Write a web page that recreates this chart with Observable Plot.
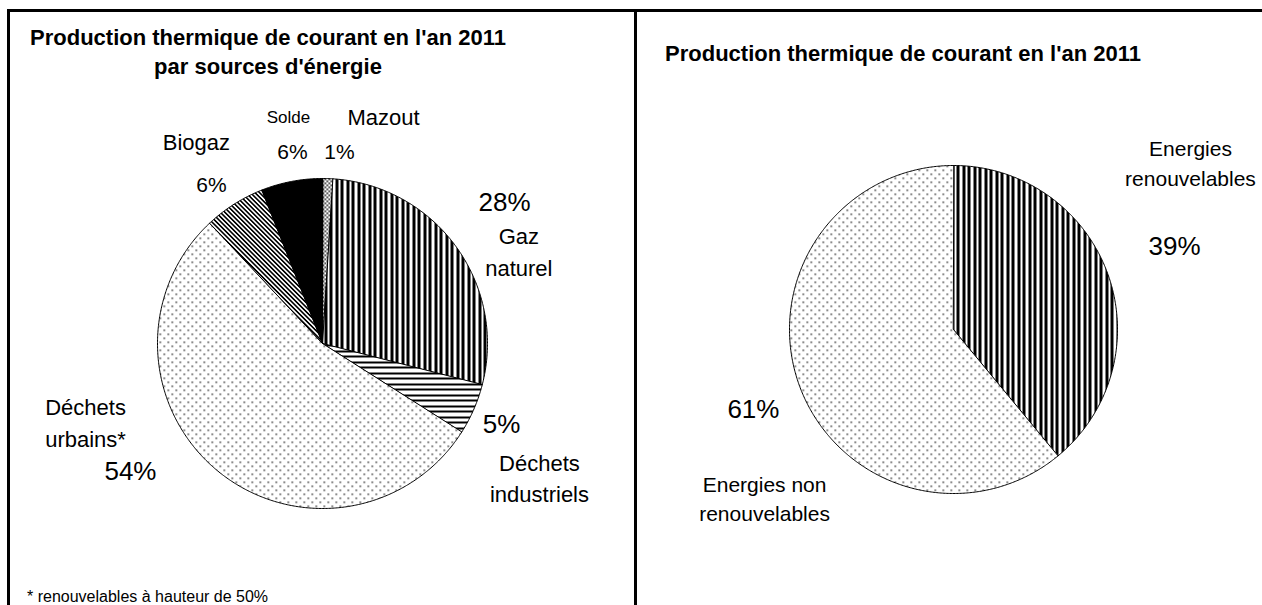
<!DOCTYPE html>
<html><head><meta charset="utf-8">
<script src="https://cdn.jsdelivr.net/npm/d3@7"></script>
<script src="https://cdn.jsdelivr.net/npm/@observablehq/plot@0.6"></script>
<style>
body{margin:0;background:#fff;font-family:"Liberation Sans",Arial,sans-serif;}
#page{position:relative;width:1262px;height:605px;overflow:hidden;background:#fff}
.abs{position:absolute}
.title{position:absolute;font-weight:bold;font-size:22px;line-height:29px;text-align:center;white-space:nowrap;color:#000}
.note{position:absolute;font-size:16px;color:#000;white-space:nowrap}
</style></head><body>
<svg width="0" height="0" style="position:absolute">
  <defs>
    <pattern id="pDense" width="4" height="4" patternUnits="userSpaceOnUse">
      <rect width="4" height="4" fill="#fff"/>
      <rect x="0" y="0" width="1.6" height="1.6" fill="#000"/>
      <rect x="2" y="2" width="1.6" height="1.6" fill="#000"/>
    </pattern>
    <pattern id="pVert" width="11" height="10" patternUnits="userSpaceOnUse">
      <rect width="11" height="10" fill="#fff"/>
      <rect x="0" y="0" width="3" height="10" fill="#000"/>
      <rect x="6" y="0" width="3" height="10" fill="#000"/>
    </pattern>
    <pattern id="pHoriz" width="10" height="11" patternUnits="userSpaceOnUse">
      <rect width="10" height="11" fill="#fff"/>
      <rect x="0" y="0" width="10" height="2" fill="#000"/>
      <rect x="0" y="6" width="10" height="2" fill="#000"/>
    </pattern>
    <pattern id="pDots" width="8" height="8" patternUnits="userSpaceOnUse">
      <rect width="8" height="8" fill="#fff"/>
      <rect x="1" y="1" width="1.5" height="1.5" fill="#333"/>
      <rect x="5" y="5" width="1.5" height="1.5" fill="#333"/>
    </pattern>
    <pattern id="pDiag" width="3.2" height="10" patternUnits="userSpaceOnUse" patternTransform="rotate(-45)">
      <rect width="3.2" height="10" fill="#fff"/>
      <rect x="0" y="0" width="1.6" height="10" fill="#000"/>
    </pattern>
  </defs>
</svg>
<div id="page">
  <div class="abs" style="left:7px;top:9px;width:630px;height:620px;border:3px solid #000;border-bottom:none;box-sizing:border-box"></div>
  <div class="abs" style="left:634px;top:9px;width:628px;height:3px;background:#000"></div>
  <div class="title" id="t1" style="left:0;width:536px;top:23px"></div>
  <div class="title" id="t2" style="left:653px;width:500px;top:39px"></div>
  <div class="abs" id="c1" style="left:10px;top:80px"></div>
  <div class="abs" id="c2" style="left:637px;top:80px"></div>
  <div class="note" id="note" style="left:27px;top:588px"></div>
</div>
<script>
// ---- data ----
const title1 = "Production thermique de courant en l'an 2011\npar sources d'énergie";
const title2 = "Production thermique de courant en l'an 2011";
const footnote = "* renouvelables à hauteur de 50%";

const sources = ["Mazout", "Gaz naturel", "Déchets industriels", "Déchets urbains*", "Biogaz", "Solde"];
const sourceLabels = ["Mazout", "Gaz\nnaturel", "Déchets\nindustriels", "Déchets\nurbains*", "Biogaz", "Solde"];
const sourceShares = [1, 28, 5, 54, 6, 6];

const groups = ["Energies renouvelables", "Energies non renouvelables"];
const groupLabels = ["Energies\nrenouvelables", "Energies non\nrenouvelables"];
const groupShares = [39, 61];

// ---- styles / layout ----
const font = "Liberation Sans, Arial, sans-serif";
const sourceFills = ["url(#pDense)", "url(#pVert)", "url(#pHoriz)", "url(#pDots)", "url(#pDiag)", "#000"];
const groupFills = ["url(#pVert)", "url(#pDots)"];
// label anchor positions, in units of the pie radius, relative to the pie centre
const sourceNamePos = [[0.37, 1.385], [1.19, 0.567], [1.315, -0.806], [-1.436, -0.47], [-0.764, 1.235], [-0.206, 1.385]];
const sourceNameSize = [22, 22, 22, 22, 22, 17];
const sourcePctPos = [[0.103, 1.158], [1.103, 0.855], [1.085, -0.491], [-1.164, -0.776], [-0.673, 0.958], [-0.182, 1.158]];
const sourcePctSize = [21, 26, 26, 26, 21, 21];
const groupNamePos = [[1.445, 1.024], [-1.152, -1.021]];
const groupPctPos = [[1.348, 0.506], [-1.22, -0.488]];

document.getElementById("t1").innerHTML = title1.replace("\n", "<br>");
document.getElementById("t2").textContent = title2;
document.getElementById("note").textContent = footnote;

function slices(values) {
  const arcs = d3.pie().sort(null).value(d => d)(values);
  return arcs.map(a => {
    const pts = [{x: 0, y: 0}];
    const n = Math.max(2, Math.ceil((a.endAngle - a.startAngle) / (Math.PI / 360)));
    for (let k = 0; k <= n; k++) {
      const t = a.startAngle + (a.endAngle - a.startAngle) * k / n;
      pts.push({x: Math.sin(t), y: Math.cos(t)});
    }
    return pts;
  });
}

function pie({values, labels, fills, namePos, nameSize, pctPos, pctSize, width, height, cx, cy, r}) {
  const polys = slices(values);
  const nameData = labels.map((t, i) => ({text: t, x: namePos[i][0], y: namePos[i][1], size: nameSize[i]}));
  const pctData = values.map((v, i) => ({text: v + "%", x: pctPos[i][0], y: pctPos[i][1], size: pctSize[i]}));
  return Plot.plot({
    width, height, margin: 0,
    x: {domain: [-cx / r, (width - cx) / r], axis: null},
    y: {domain: [-(height - cy) / r, cy / r], axis: null},
    style: {background: "transparent", overflow: "visible"},
    marks: [
      ...polys.map((p, i) => Plot.line(p, {x: "x", y: "y", curve: "linear-closed", fill: fills[i], stroke: "#000", strokeWidth: 1})),
      Plot.text(nameData, {x: "x", y: "y", text: "text", fontSize: "size", lineHeight: 1.42, fontFamily: font, fill: "#000"}),
      Plot.text(pctData, {x: "x", y: "y", text: "text", fontSize: "size", fontFamily: font, fill: "#000"})
    ]
  });
}

document.getElementById("c1").append(pie({
  values: sourceShares, labels: sourceLabels, fills: sourceFills,
  namePos: sourceNamePos, nameSize: sourceNameSize, pctPos: sourcePctPos, pctSize: sourcePctSize,
  width: 624, height: 525, cx: 312, cy: 263, r: 165
}));
document.getElementById("c2").append(pie({
  values: groupShares, labels: groupLabels, fills: groupFills,
  namePos: groupNamePos, nameSize: [21, 21], pctPos: groupPctPos, pctSize: [26, 26],
  width: 625, height: 525, cx: 316, cy: 249, r: 164
}));
</script>
</body></html>
